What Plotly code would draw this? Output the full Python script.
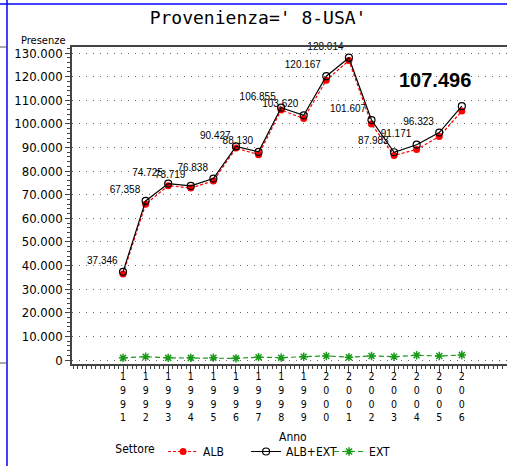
import plotly.graph_objects as go

# ---- data ----
years = [1991, 1992, 1993, 1994, 1995, 1996, 1997, 1998, 1999, 2000, 2001, 2002, 2003, 2004, 2005, 2006]
alb_ext = [37346, 67358, 74725, 73719, 76838, 90427, 88130, 106855, 103620, 120167, 128014, 101607, 87983, 91171, 96323, 107496]
alb = [36446, 65958, 73825, 72819, 75838, 89727, 86930, 105855, 102220, 118467, 126814, 99907, 86583, 89171, 94623, 105396]
ext = [900, 1400, 900, 900, 1000, 700, 1200, 1000, 1400, 1700, 1200, 1700, 1400, 2000, 1700, 2100]
year_tick_text = ["<br>".join(str(y)) for y in years]
y_ticks = [0, 10000, 20000, 30000, 40000, 50000, 60000, 70000, 80000, 90000, 100000, 110000, 120000, 130000]

def fmt(v):
    return f"{v:,}".replace(",", ".")

labels = [fmt(v) for v in alb_ext[:-1]] + [""]

NARROW = "Liberation Sans Narrow, Arial Narrow, DejaVu Sans Condensed, sans-serif"
SANS = "Liberation Sans, Arial, sans-serif"

fig = go.Figure()
fig.add_trace(go.Scatter(
    x=years, y=alb, name="ALB", mode="lines+markers",
    line=dict(color="#ff0000", width=1.2, dash="3px,2px"),
    marker=dict(symbol="circle", size=7, color="#ff0000"),
    cliponaxis=False,
))
fig.add_trace(go.Scatter(
    x=years, y=alb_ext, name="ALB+EXT", mode="lines+markers+text",
    line=dict(color="#000000", width=1.2),
    marker=dict(symbol="circle-open", size=7, color="#000000", line=dict(width=1.2)),
    text=labels, textposition="top left",
    textfont=dict(family=SANS, size=10, color="#000000"),
    cliponaxis=False,
))
fig.add_trace(go.Scatter(
    x=years, y=ext, name="EXT", mode="lines+markers",
    line=dict(color="#1a9a1a", width=1.2, dash="5px,3px"),
    marker=dict(symbol="asterisk-open", size=7, color="#1a9a1a", line=dict(width=1.5, color="#1a9a1a")),
    cliponaxis=False,
))

# big label for last point
fig.add_annotation(
    x=years[-1], y=alb_ext[-1], text=fmt(alb_ext[-1]), showarrow=False,
    xanchor="right", yanchor="bottom", xshift=11, yshift=13,
    font=dict(family=SANS, size=20, color="#000000", weight="bold"),
)

# layout geometry: paper spans x 72..507, y 47..466; plot y-domain 47..364
TOP, BOTTOM_AX, H = 47, 364, 466
PAPER_H = H - TOP
Y_DOM0 = (H - BOTTOM_AX) / PAPER_H

def px_x(p):
    return (p - 72) / 435.0

def px_y(p):
    return (H - p) / PAPER_H

fig.update_layout(
    width=507, height=466,
    margin=dict(l=72, r=0, t=TOP, b=0),
    paper_bgcolor="white", plot_bgcolor="white",
    separators=",.",
    showlegend=True,
    title=dict(text="Provenienza=' 8-USA'", x=0.509, xanchor="center", y=0.962, yanchor="middle",
               font=dict(family="DejaVu Sans Mono, monospace", size=18, color="#000000")),
    legend=dict(orientation="h", x=0.095, xanchor="left", y=px_y(466), yanchor="bottom",
                title=dict(text="Settore", side="left", font=dict(family=NARROW, size=12, color="#000")),
                font=dict(family=NARROW, size=12, color="#000"),
                entrywidth=38, itemwidth=30, bgcolor="rgba(0,0,0,0)", tracegroupgap=0),
)

fig.update_xaxes(
    range=[1988.74, 2008.0],
    tickvals=years, ticktext=year_tick_text,
    ticks="outside", ticklen=6, tickcolor="#444", tickwidth=1,
    minor=dict(dtick=0.2, tick0=1991, ticks="outside", ticklen=3, tickcolor="#444", tickwidth=1),
    showline=True, linecolor="#444", linewidth=1.5, mirror=True,
    showgrid=False, zeroline=False, automargin=False,
    ticklabelstandoff=-4,
    tickfont=dict(family=NARROW, size=10.5, color="#000"),
)
fig.update_yaxes(
    domain=[Y_DOM0, 1],
    range=[-1694, 132541],
    tickvals=y_ticks, tickformat=",d",
    ticks="outside", ticklen=5, tickcolor="#444", tickwidth=1,
    minor=dict(dtick=2000, tick0=0, ticks="outside", ticklen=3, tickcolor="#444"),
    showline=True, linecolor="#444", linewidth=1.5, mirror=False,
    showgrid=True, gridcolor="#666", gridwidth=1, griddash="1px,6px",
    zeroline=False, automargin=False,
    tickfont=dict(family=NARROW, size=13, color="#000"),
)

# axis titles
fig.add_annotation(xref="paper", yref="paper", x=px_x(68), y=1.0, text="Presenze", showarrow=False,
                   xanchor="right", yanchor="bottom", yshift=-2,
                   font=dict(family=NARROW, size=11, color="#000"))
fig.add_annotation(xref="paper", yref="paper", x=0.508, y=px_y(437), text="Anno", showarrow=False,
                   xanchor="center", yanchor="middle",
                   font=dict(family=NARROW, size=12, color="#000"))

# surrounding frame lines of the page
fig.add_shape(type="line", xref="paper", yref="paper", x0=px_x(7), x1=px_x(7), y0=px_y(0), y1=px_y(466),
              line=dict(color="#0000ff", width=1.5))
fig.add_shape(type="line", xref="paper", yref="paper", x0=px_x(0), x1=px_x(507), y0=px_y(4), y1=px_y(4),
              line=dict(color="#0000ff", width=1.5))
fig.add_shape(type="line", xref="paper", yref="paper", x0=px_x(0), x1=px_x(7), y0=px_y(47), y1=px_y(47),
              line=dict(color="#555", width=1))
fig.add_shape(type="line", xref="paper", yref="paper", x0=px_x(0), x1=px_x(7), y0=px_y(363), y1=px_y(363),
              line=dict(color="#555", width=1))

fig.write_html("out.html", config={"displayModeBar": False},
               post_script="document.body.style.margin='0';document.body.style.overflow='hidden';")
